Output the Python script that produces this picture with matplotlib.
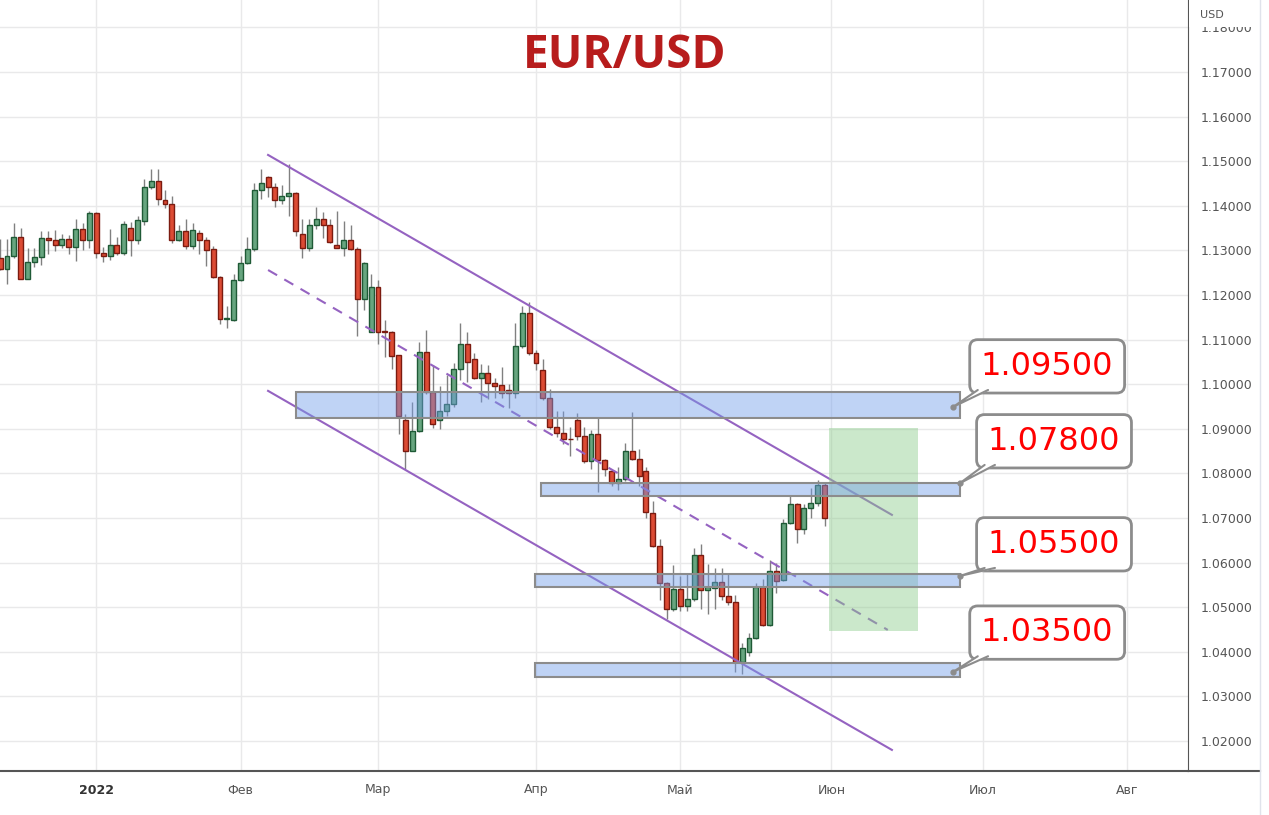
import numpy as np
import pandas as pd
import matplotlib
matplotlib.use("Agg")
import matplotlib.pyplot as plt
from matplotlib.patches import Rectangle
from matplotlib.lines import Line2D

# daily EUR/USD candles, 14 Dec 2021 .. 31 May 2022
opens = [1.1284, 1.1258, 1.1287, 1.1331, 1.1236, 1.1275, 1.1285, 1.1327, 1.1324, 1.1313,
         1.1326, 1.1308, 1.1347, 1.1324, 1.1383, 1.1295, 1.1288, 1.1313, 1.1294, 1.1351,
         1.1324, 1.1367, 1.1441, 1.1455, 1.1413, 1.1403, 1.1323, 1.1343, 1.1309, 1.1340,
         1.1324, 1.1302, 1.1241, 1.1146, 1.1143, 1.1233, 1.1271, 1.1302, 1.1435, 1.1464,
         1.1442, 1.1414, 1.1421, 1.1428, 1.1337, 1.1306, 1.1358, 1.1371, 1.1358, 1.1313,
         1.1306, 1.1323, 1.1303, 1.1191, 1.1116, 1.1217, 1.1119, 1.1118, 1.1065, 1.0920,
         1.0851, 1.0894, 1.1073, 1.0983, 1.0919, 1.0940, 1.0956, 1.1034, 1.1090, 1.1056,
         1.1014, 1.1026, 1.1002, 1.0998, 1.0988, 1.0981, 1.1086, 1.1160, 1.1069, 1.1032,
         1.0970, 1.0905, 1.0890, 1.0878, 1.0920, 1.0884, 1.0827, 1.0889, 1.0830, 1.0805,
         1.0779, 1.0787, 1.0850, 1.0832, 1.0806, 1.0712, 1.0638, 1.0555, 1.0497, 1.0541,
         1.0502, 1.0519, 1.0618, 1.0538, 1.0543, 1.0557, 1.0525, 1.0511, 1.0377, 1.0400,
         1.0430, 1.0546, 1.0460, 1.0582, 1.0560, 1.0688, 1.0732, 1.0676, 1.0722, 1.0734,
         1.0775]
highs = [1.1325, 1.1325, 1.1362, 1.1351, 1.1305, 1.1305, 1.1343, 1.1343, 1.1345, 1.1336,
         1.1334, 1.1370, 1.1361, 1.1388, 1.1385, 1.1307, 1.1348, 1.1331, 1.1366, 1.1364,
         1.1377, 1.1461, 1.1482, 1.1482, 1.1435, 1.1421, 1.1358, 1.1370, 1.1362, 1.1345,
         1.1329, 1.1310, 1.1242, 1.1176, 1.1248, 1.1287, 1.1330, 1.1451, 1.1483, 1.1466,
         1.1451, 1.1447, 1.1493, 1.1431, 1.1370, 1.1370, 1.1397, 1.1386, 1.1370, 1.1389,
         1.1366, 1.1357, 1.1307, 1.1273, 1.1247, 1.1233, 1.1144, 1.1120, 1.1065, 1.0933,
         1.0959, 1.1094, 1.1122, 1.1043, 1.0995, 1.1020, 1.1047, 1.1138, 1.1117, 1.1070,
         1.1045, 1.1043, 1.1014, 1.1039, 1.1001, 1.1138, 1.1175, 1.1184, 1.1077, 1.1056,
         1.0989, 1.0940, 1.0940, 1.0904, 1.0935, 1.0905, 1.0898, 1.0926, 1.0832, 1.0807,
         1.0815, 1.0868, 1.0938, 1.0854, 1.0814, 1.0738, 1.0653, 1.0556, 1.0594, 1.0570,
         1.0577, 1.0632, 1.0641, 1.0596, 1.0588, 1.0588, 1.0576, 1.0528, 1.0420, 1.0442,
         1.0555, 1.0564, 1.0606, 1.0598, 1.0697, 1.0749, 1.0734, 1.0732, 1.0768, 1.0785,
         1.0779]
lows = [1.1255, 1.1224, 1.1283, 1.1235, 1.1235, 1.1262, 1.1267, 1.1292, 1.1299, 1.1305,
        1.1292, 1.1277, 1.1301, 1.1305, 1.1282, 1.1275, 1.1278, 1.1290, 1.1290, 1.1287,
        1.1314, 1.1357, 1.1437, 1.1401, 1.1394, 1.1317, 1.1321, 1.1304, 1.1303, 1.1291,
        1.1265, 1.1239, 1.1134, 1.1125, 1.1141, 1.1231, 1.1269, 1.1298, 1.1416, 1.1420,
        1.1397, 1.1405, 1.1376, 1.1332, 1.1283, 1.1298, 1.1349, 1.1327, 1.1317, 1.1306,
        1.1288, 1.1301, 1.1107, 1.1166, 1.1116, 1.1090, 1.1060, 1.1034, 1.0888, 1.0810,
        1.0851, 1.0892, 1.0978, 1.0901, 1.0899, 1.0928, 1.0948, 1.1009, 1.1005, 1.1011,
        1.0961, 1.0967, 1.0968, 1.0968, 1.0947, 1.0968, 1.1082, 1.1065, 1.1031, 1.0964,
        1.0900, 1.0881, 1.0866, 1.0839, 1.0874, 1.0823, 1.0810, 1.0758, 1.0795, 1.0771,
        1.0763, 1.0784, 1.0830, 1.0771, 1.0701, 1.0635, 1.0516, 1.0474, 1.0491, 1.0491,
        1.0491, 1.0514, 1.0496, 1.0484, 1.0496, 1.0517, 1.0506, 1.0354, 1.0351, 1.0390,
        1.0428, 1.0457, 1.0457, 1.0532, 1.0558, 1.0686, 1.0643, 1.0663, 1.0699, 1.0727,
        1.0682]
closes = [1.1258, 1.1288, 1.1331, 1.1236, 1.1275, 1.1286, 1.1327, 1.1324, 1.1313, 1.1326,
          1.1308, 1.1347, 1.1324, 1.1383, 1.1295, 1.1288, 1.1313, 1.1295, 1.1360, 1.1324,
          1.1368, 1.1442, 1.1455, 1.1415, 1.1403, 1.1324, 1.1343, 1.1309, 1.1345, 1.1323,
          1.1300, 1.1241, 1.1146, 1.1148, 1.1233, 1.1271, 1.1302, 1.1435, 1.1451, 1.1442,
          1.1414, 1.1421, 1.1428, 1.1344, 1.1306, 1.1358, 1.1371, 1.1358, 1.1319, 1.1306,
          1.1323, 1.1303, 1.1191, 1.1271, 1.1217, 1.1117, 1.1117, 1.1064, 1.0928, 1.0851,
          1.0894, 1.1073, 1.0983, 1.0910, 1.0940, 1.0956, 1.1034, 1.1090, 1.1050, 1.1014,
          1.1026, 1.1002, 1.0996, 1.0981, 1.0981, 1.1086, 1.1160, 1.1069, 1.1048, 1.0970,
          1.0904, 1.0890, 1.0876, 1.0876, 1.0884, 1.0827, 1.0889, 1.0830, 1.0809, 1.0779,
          1.0787, 1.0850, 1.0832, 1.0794, 1.0713, 1.0638, 1.0555, 1.0496, 1.0541, 1.0502,
          1.0519, 1.0618, 1.0538, 1.0546, 1.0557, 1.0525, 1.0511, 1.0377, 1.0409, 1.0430,
          1.0546, 1.0460, 1.0582, 1.0558, 1.0688, 1.0732, 1.0676, 1.0722, 1.0734, 1.0775,
          1.0699]

month_labels = ["2022", "Фев", "Мар", "Апр", "Май", "Июн", "Июл", "Авг"]
price_ticks = [1.02, 1.03, 1.04, 1.05, 1.06, 1.07, 1.08, 1.09, 1.10, 1.11,
               1.12, 1.13, 1.14, 1.15, 1.16, 1.17, 1.18]

# drawings: (bar index, price) anchors
channel_upper = [(39.0, 1.1514), (129.8, 1.0707)]
channel_lower = [(39.0, 1.0985), (129.8, 1.0180)]
channel_mid = [(39.0, 1.1256), (129.2, 1.0449)]
zone_x0 = [43.05, 78.7, 77.85, 77.85]
zone_x1 = [139.7, 139.7, 139.7, 139.7]
zone_lo = [1.0924, 1.0749, 1.0545, 1.0343]
zone_hi = [1.0983, 1.0779, 1.0574, 1.0375]
target_x = [120.6, 133.6]
target_y = [1.0447, 1.0902]
callout_text = ["1.09500", "1.07800", "1.05500", "1.03500"]
callout_px = [138.7, 139.7, 139.7, 138.7]
callout_py = [1.0949, 1.0778, 1.0570, 1.0355]
callout_bx = [152.4, 153.4, 153.4, 152.4]
callout_by = [1.1040, 1.0872, 1.0641, 1.0443]

dates = pd.bdate_range("2021-12-14", periods=len(opens))
calendar = pd.bdate_range("2021-12-14", "2022-08-31")
month_pos = [i for i in range(1, len(calendar)) if calendar[i].month != calendar[i - 1].month]

o = np.array(opens); h = np.array(highs); l = np.array(lows); c = np.array(closes)
x = np.arange(len(o))
up = c >= o

fig = plt.figure(figsize=(12.69, 8.15), dpi=100)
ax = fig.add_axes([0, 44 / 815, 1188 / 1269, 771 / 815])

purple = "#9563c1"
ax.vlines(x, l, h, color="#808080", lw=1, zorder=2)
body_lo = np.minimum(o, c)
body_h = np.maximum(np.abs(c - o), 0.00015)
ax.bar(x[up], body_h[up], bottom=body_lo[up], width=0.72,
       color="#67a57f", edgecolor="#1f5a36", linewidth=1, zorder=3)
ax.bar(x[~up], body_h[~up], bottom=body_lo[~up], width=0.72,
       color="#dc4b34", edgecolor="#7b1b10", linewidth=1, zorder=3)

for (x0, y0), (x1, y1) in [channel_upper, channel_lower]:
    ax.plot([x0, x1], [y0, y1], color=purple, lw=1.5, zorder=4)
ax.plot([channel_mid[0][0], channel_mid[1][0]], [channel_mid[0][1], channel_mid[1][1]],
        color=purple, lw=1.5, ls=(0, (5, 4)), zorder=4)

ax.add_patch(Rectangle((target_x[0], target_y[0]), target_x[1] - target_x[0],
                       target_y[1] - target_y[0], fc=(0.55, 0.80, 0.55), alpha=0.45,
                       ec="none", zorder=4))

for x0, x1, lo, hi in zip(zone_x0, zone_x1, zone_lo, zone_hi):
    ax.add_patch(Rectangle((x0, lo), x1 - x0, hi - lo, fc=(0.45, 0.62, 0.92, 0.45),
                           ec="#8c8c8c", lw=1.5, zorder=5))

# speech-bubble labels: box, then a narrow tail from the lower-left corner to the level
half_w, half_h = 11.1, 0.0058
for t, px, py, bx, by in zip(callout_text, callout_px, callout_py, callout_bx, callout_by):
    ax.text(bx, by, t, ha="center", va="center", fontsize=23, color="#ff0000",
            family="DejaVu Sans", zorder=7,
            bbox=dict(boxstyle="round,pad=0.35,rounding_size=0.25", fc="white",
                      ec="#8c8c8c", lw=2))
    base_y = by - half_h + 0.0005
    tx = [bx - half_w + 1.0, px, bx - half_w + 2.5]
    ty = [base_y, py, base_y]
    ax.fill(tx, ty, color="white", zorder=8)
    ax.plot(tx, ty, color="#8c8c8c", lw=1.5, zorder=8, solid_capstyle="round")
    ax.plot(px, py, "o", ms=3.5, color="#8c8c8c", zorder=9)

ax.set_xlim(-0.02, 172.9)
ax.set_ylim(1.01327, 1.18614)
ax.set_xticks(month_pos)
ax.set_xticklabels(month_labels)
ax.set_yticks(price_ticks)
ax.set_yticklabels([f"{v:.5f}" for v in price_ticks])
ax.yaxis.tick_right()
ax.tick_params(axis="both", length=0, colors="#555555", labelsize=9)
ax.tick_params(axis="y", pad=9)
ax.tick_params(axis="x", pad=9)
ax.get_xticklabels()[0].set_fontweight("bold")
ax.get_xticklabels()[0].set_color("#333333")
ax.grid(True, color="#e9e9ea", lw=1)
ax.set_axisbelow(True)
for s in ["left", "top"]:
    ax.spines[s].set_visible(False)
ax.spines["right"].set_color("#555555")
ax.spines["bottom"].set_color("#555555")
ax.spines["bottom"].set_linewidth(1.5)

fig.add_artist(Line2D([1188 / 1269, 1260 / 1269], [44 / 815, 44 / 815],
                      color="#555555", lw=1.5, transform=fig.transFigure))
fig.add_artist(Line2D([1260 / 1269, 1260 / 1269], [0, 1], color="#e0e3eb", lw=1,
                      transform=fig.transFigure))
fig.add_artist(Rectangle((1189 / 1269, 1 - 27 / 815), 70 / 1269, 27 / 815,
                         transform=fig.transFigure, fc="white", ec="none", zorder=5))
fig.text(1200 / 1269, 1 - 15 / 815, "USD", fontsize=8, color="#555555",
         va="center", ha="left", zorder=6)
fig.text(625 / 1269, 1 - 55 / 815, "EUR/USD", fontsize=33, fontweight="bold",
         family="Open Sans", color="#b71c1c", ha="center", va="center")

fig.savefig("out.png", dpi=100)
